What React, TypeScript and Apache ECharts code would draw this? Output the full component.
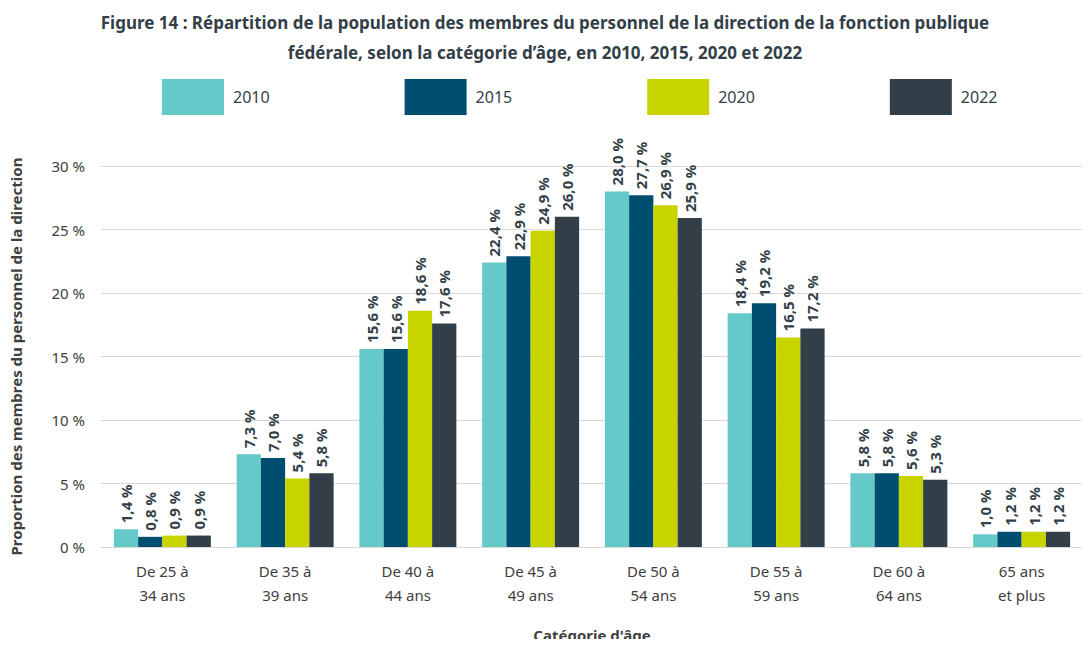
import React, { useEffect, useRef } from "react";
import * as echarts from "echarts";

const categories = ["De 25 à\n34 ans", "De 35 à\n39 ans", "De 40 à\n44 ans", "De 45 à\n49 ans", "De 50 à\n54 ans", "De 55 à\n59 ans", "De 60 à\n64 ans", "65 ans\net plus"];
const years = ["2010", "2015", "2020", "2022"];
const colors = ["#66c9c9", "#004e6f", "#c8d400", "#333f48"];
const v2010 = [1.4, 7.3, 15.6, 22.4, 28.0, 18.4, 5.8, 1.0];
const v2015 = [0.8, 7.0, 15.6, 22.9, 27.7, 19.2, 5.8, 1.2];
const v2020 = [0.9, 5.4, 18.6, 24.9, 26.9, 16.5, 5.6, 1.2];
const v2022 = [0.9, 5.8, 17.6, 26.0, 25.9, 17.2, 5.3, 1.2];
const values = [v2010, v2015, v2020, v2022];

const F = "'Noto Sans', 'Open Sans', sans-serif";
const fmt = (v: number) => v.toFixed(1).replace(".", ",") + " %";

export default function App() {
  const ref = useRef<HTMLDivElement>(null);
  useEffect(() => {
    const chart = echarts.init(ref.current!, null, { renderer: "svg" });
    chart.setOption({
      animation: false,
      textStyle: { fontFamily: F },
      title: {
        text: "Figure 14 : Répartition de la population des membres du personnel de la direction de la fonction publique\nfédérale, selon la catégorie d’âge, en 2010, 2015, 2020 et 2022",
        left: "center",
        top: 2,
        textStyle: { fontFamily: F, fontSize: 17, fontWeight: "bold", color: "#333f48", lineHeight: 30 },
      },
      legend: {
        top: 74,
        left: 157,
        itemWidth: 62,
        itemHeight: 36,
        itemGap: 135,
        icon: "rect",
        textStyle: { fontFamily: F, fontSize: 16, color: "#333f48", padding: [0, 0, 0, 4] },
        data: years,
      },
      grid: { left: 95, right: 7, top: 166, bottom: 99 },
      xAxis: {
        type: "category",
        data: categories,
        axisTick: { show: false },
        axisLine: { lineStyle: { color: "#d9d9d9" } },
        axisLabel: { fontFamily: F, fontSize: 15, color: "#404040", lineHeight: 24, margin: 12 },
        name: "Catégorie d'âge",
        nameLocation: "middle",
        nameGap: 80,
        nameTextStyle: { fontFamily: F, fontSize: 15, fontWeight: "bold", color: "#404040" },
      },
      yAxis: {
        type: "value",
        min: 0,
        max: 30,
        interval: 5,
        axisLabel: { formatter: (v: number) => v + " %", fontFamily: F, fontSize: 15, color: "#404040", margin: 16 },
        splitLine: { lineStyle: { color: "#d9d9d9" } },
        name: "Proportion des membres du personnel de la direction",
        nameLocation: "middle",
        nameGap: 78,
        nameTextStyle: { fontFamily: F, fontSize: 15, fontWeight: "bold", color: "#404040" },
      },
      series: years.map((y, i) => ({
        name: y,
        type: "bar",
        data: values[i],
        itemStyle: { color: colors[i] },
        barGap: "0%",
        barCategoryGap: "21%",
        label: {
          show: true,
          position: "top",
          rotate: 90,
          align: "left",
          verticalAlign: "middle",
          distance: 6,
          formatter: (p: any) => fmt(p.value),
          fontFamily: F,
          fontSize: 15,
          fontWeight: "bold",
          color: "#333f48",
        },
      })),
    });
    return () => chart.dispose();
  }, []);
  return <div ref={ref} style={{ width: 1090, height: 647, margin: -8 }} />;
}
